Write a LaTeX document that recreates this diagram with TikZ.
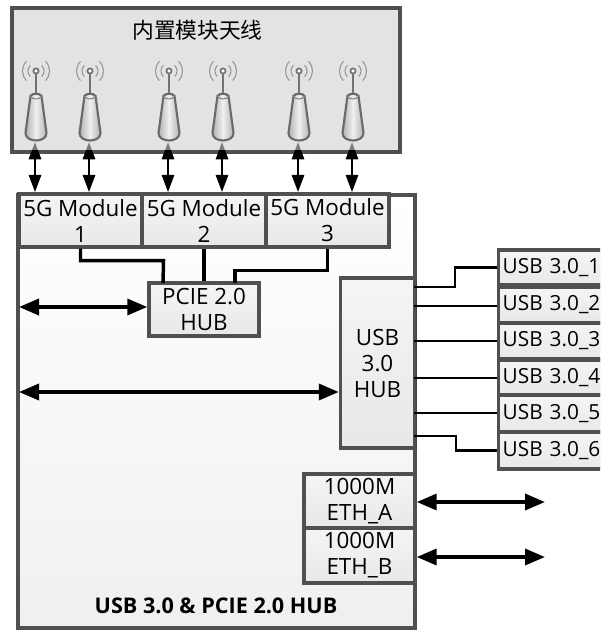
\documentclass[tikz,border=0pt]{standalone}
\usepackage{fontspec}
\setmainfont{Open Sans}
\newfontfamily\cjk{Noto Sans CJK SC}
\usetikzlibrary{arrows.meta,shadows,calc}
\definecolor{frame}{HTML}{505050}
\definecolor{antfill}{HTML}{E3E3E3}
\tikzset{
    box/.style={draw=frame, line width=2.6pt, top color=white!96!black, bottom color=black!9, inner sep=0pt, align=center,
        font=\fontsize{16.8}{19.5}\selectfont, drop shadow={shadow xshift=1.5pt, shadow yshift=-1.5pt, opacity=.18, fill=black}},
    wire/.style={draw=black, line width=2.6pt},
    thinwire/.style={draw=black, line width=1.9pt},
    both/.style={draw=black, line width=2.6pt, {Triangle[length=15pt, width=12pt]}-{Triangle[length=15pt, width=12pt]}},
    antarrow/.style={draw=black, line width=2.2pt, {Triangle[length=13pt, width=9pt]}-{Triangle[length=13pt, width=9pt]}},
    antenna/.pic={
        \draw[line width=1.3pt, frame!80] (0,-24) -- (0,0);
        \draw[line width=1.3pt, frame!80, fill=white] (0,-25) circle (2.6);
        \draw[line width=.8pt, frame!60] (-45:8) ++(0,-25) arc (-45:45:8) (135:8) ++(0,-25) arc (135:225:8);
        \draw[line width=.8pt, frame!60] (-45:13.5) ++(0,-25) arc (-45:45:13.5) (135:13.5) ++(0,-25) arc (135:225:13.5);
        \draw[line width=1.6pt, draw=frame!85, left color=black!30, right color=black!30, middle color=black!6]
            (-5.5,0) .. controls (-4,-3) and (4,-3) .. (5.5,0) -- (10.5,37)
            .. controls (10.5,47) and (-10.5,47) .. (-10.5,37) -- cycle;
        \draw[line width=.8pt, frame!70] (-5.5,0) .. controls (-4,4) and (4,4) .. (5.5,0);
    }
}
\begin{document}
\begin{tikzpicture}[x=.75pt, y=-.75pt]
\useasboundingbox (0,0) rectangle (600,630);
\clip (0,0) rectangle (600,630);

% antenna panel
\node[draw=frame, line width=2.6pt, fill=antfill, minimum width=388*.75pt, minimum height=144*.75pt,
    drop shadow={shadow xshift=1.5pt, shadow yshift=-1.5pt, opacity=.18, fill=black}] (antbox) at (206,80) {};
\node[font=\cjk\fontsize{16.3}{19}\selectfont, inner sep=0pt] (anttitle) at (197.5,30) {内置模块天线};

% main board
\node[box, top color=white, bottom color=black!6, minimum width=397*.75pt, minimum height=433*.75pt] (board) at (216.5,411.5) {};
\node[box, minimum width=123*.75pt, minimum height=53*.75pt] (mod1) at (80.5,220.5) {5G Module\\1};
\node[box, minimum width=124*.75pt, minimum height=53*.75pt] (mod2) at (204,220.5) {5G Module\\2};
\node[box, minimum width=123*.75pt, minimum height=53*.75pt] (mod3) at (327.5,220.5) {5G Module\\3};
\node[box, minimum width=110*.75pt, minimum height=53*.75pt] (pcie) at (204,309.5) {PCIE 2.0\\HUB};
\node[box, minimum width=74*.75pt, minimum height=170*.75pt] (usbhub) at (377.5,363) {USB\\3.0\\HUB};
\node[box, minimum width=111*.75pt, minimum height=54*.75pt] (etha) at (359.5,501) {1000M\\ETH\_A};
\node[box, minimum width=111*.75pt, minimum height=55*.75pt] (ethb) at (359.5,555.5) {1000M\\ETH\_B};
\node[font=\bfseries\fontsize{16.2}{19}\selectfont, inner sep=0pt] (boardname) at (216,606) {USB 3.0 \& PCIE 2.0 HUB};

% usb ports
\foreach \i/\y/\h in {1/267.5/35, 2/305/36, 3/341/36, 4/377.5/35, 5/413.5/37, 6/450.5/37} {
    \node[box, anchor=west, font=\fontsize{15.6}{19}\selectfont, minimum width=160*.75pt, minimum height=\h*.75pt, text width=152*.75pt, align=left] (port\i) at (497,\y) {USB 3.0\_\i};
}

% antennas
\foreach \i/\x in {1/35, 2/89, 3/168, 4/222, 5/298, 6/352} {
    \pic at (\x+1,96) {antenna};
    \coordinate (ant\i) at (\x,142);
}
\foreach \i/\m in {1/1, 2/1, 3/2, 4/2, 5/3, 6/3} {
    \draw[antarrow] (ant\i) -- (ant\i |- mod\m.north);
}
\fill[antfill, opacity=.55] (14,142) rectangle (398,150);

% pcie links
\coordinate (pcieA) at (163,283);
\coordinate (pcieC) at (235,283);
\draw[wire] (mod1.south) |- ++(83,12) -- (pcieA);
\draw[wire] (mod2.south) -- (pcie.north);
\draw[wire] (mod3.south) -- ++(0,22) -| (pcieC);

% long arrows
\coordinate (hubleft) at (19,392);
\coordinate (pcieleft) at (19,307);
\draw[both] (pcieleft) -- (pcieleft -| pcie.west);
\draw[both] (hubleft) -- (hubleft -| usbhub.west);

% usb links
\coordinate (hub1) at (414,287);
\coordinate (hub2) at (414,306);
\coordinate (hub3) at (414,341);
\coordinate (hub4) at (414,378);
\coordinate (hub5) at (414,413);
\coordinate (hub6) at (414,436);
\draw[thinwire] (hub1) -- ++(41,0) |- (port1.west);
\draw[thinwire] (hub2) -- (hub2 -| port2.west);
\draw[thinwire] (hub3) -- (hub3 -| port3.west);
\draw[thinwire] (hub4) -- (hub4 -| port4.west);
\draw[thinwire] (hub5) -- (hub5 -| port5.west);
\draw[thinwire] (hub6) -- ++(42,0) |- (port6.west);

% ethernet
\coordinate (ethaout) at (545,502);
\coordinate (ethbout) at (545,557);
\draw[both] (ethaout -| etha.east) -- (ethaout);
\draw[both] (ethbout -| ethb.east) -- (ethbout);
\end{tikzpicture}
\end{document}
